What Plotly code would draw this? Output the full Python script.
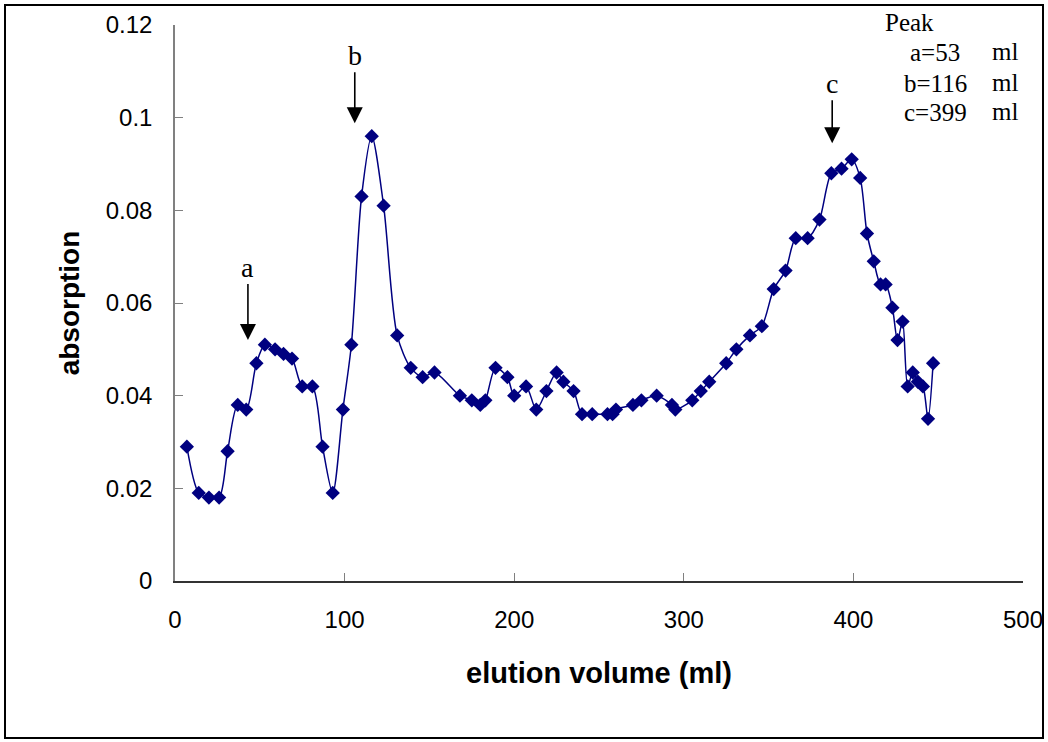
import plotly.graph_objects as go

# Elution data
volume_ml = [7, 14, 20, 26, 31, 37, 42, 48, 53, 59,
             64, 69, 75, 81, 87, 93, 99, 104, 110, 116,
             123, 131, 139, 146, 153, 168, 175, 180, 183, 189,
             196, 200, 207, 213, 219, 225, 229, 235, 240, 246,
             255, 258, 260, 270, 275, 284, 293, 295, 305, 310,
             315, 325, 331, 339, 346, 353, 360, 366, 373, 380,
             387, 393, 399, 404, 408, 412, 416, 419, 423, 426,
             429, 432, 435, 438, 441, 444, 447]
absorption = [0.029, 0.019, 0.018, 0.018, 0.028, 0.038, 0.037, 0.047, 0.051, 0.050,
              0.049, 0.048, 0.042, 0.042, 0.029, 0.019, 0.037, 0.051, 0.083, 0.096,
              0.081, 0.053, 0.046, 0.044, 0.045, 0.040, 0.039, 0.038, 0.039, 0.046,
              0.044, 0.040, 0.042, 0.037, 0.041, 0.045, 0.043, 0.041, 0.036, 0.036,
              0.036, 0.036, 0.037, 0.038, 0.039, 0.040, 0.038, 0.037, 0.039, 0.041,
              0.043, 0.047, 0.050, 0.053, 0.055, 0.063, 0.067, 0.074, 0.074, 0.078,
              0.088, 0.089, 0.091, 0.087, 0.075, 0.069, 0.064, 0.064, 0.059, 0.052,
              0.056, 0.042, 0.045, 0.043, 0.042, 0.035, 0.047]

# Peak arrows (label, x position, arrow tip y)
peak_labels = ["a", "b", "c"]
peak_arrow_x = [43, 106, 387.5]
peak_arrow_y = [0.052, 0.0988, 0.0945]
peak_values = ["a=53", "b=116", "c=399"]

x_ticks = [0, 100, 200, 300, 400, 500]
y_ticks = [0, 0.02, 0.04, 0.06, 0.08, 0.1, 0.12]

NAVY = "#000080"

fig = go.Figure()
fig.add_trace(go.Scatter(
    x=volume_ml, y=absorption, mode="lines+markers",
    line=dict(color=NAVY, width=1.5, shape="spline", smoothing=0.8),
    marker=dict(symbol="diamond", size=11, color=NAVY),
    showlegend=False, hoverinfo="x+y",
))

annotations = []
for lab, ax_, ay_, off in zip(peak_labels, peak_arrow_x, peak_arrow_y, [-73, -68, -60]):
    annotations.append(dict(
        x=ax_, y=ay_, xref="x", yref="y", text=lab, showarrow=True,
        arrowhead=2, arrowsize=2.0, arrowwidth=1.6, arrowcolor="black",
        ax=0, ay=off, font=dict(family="Liberation Serif", size=28, color="black"),
    ))

# Peak table (paper coordinates)
W, H = 848.0, 556.0
def px_x(p):
    return (p - 175) / W
def px_y(p):
    return (581 - p) / H

annotations.append(dict(x=px_x(909), y=px_y(22), xref="paper", yref="paper", text="Peak",
                        showarrow=False, xanchor="center", yanchor="middle",
                        font=dict(family="Liberation Serif", size=25, color="black")))
row_y = [52, 83, 112]
row_x = [908, 902, 902]
for val, ry, rx in zip(peak_values, row_y, row_x):
    annotations.append(dict(x=px_x(rx), y=px_y(ry), xref="paper", yref="paper", text=val,
                            showarrow=False, xanchor="left", yanchor="middle",
                            font=dict(family="Liberation Serif", size=25, color="black")))
    annotations.append(dict(x=px_x(990), y=px_y(ry - 1), xref="paper", yref="paper", text="ml",
                            showarrow=False, xanchor="left", yanchor="middle",
                            font=dict(family="Liberation Serif", size=25, color="black")))

fig.update_layout(
    width=1048, height=742,
    margin=dict(l=175, r=25, t=25, b=161, autoexpand=False),
    paper_bgcolor="white", plot_bgcolor="white",
    annotations=annotations,
    shapes=[dict(type="rect", xref="paper", yref="paper",
                 x0=px_x(5), x1=px_x(1043), y0=px_y(738), y1=px_y(5),
                 line=dict(color="black", width=2), fillcolor="rgba(0,0,0,0)", layer="below")],
    xaxis=dict(
        range=[0, 500], tickvals=x_ticks, ticktext=[str(v) for v in x_ticks],
        automargin=False,
        showgrid=False, zeroline=False, showline=True, linecolor="#333333", linewidth=1.5,
        ticks="inside", ticklen=8, tickcolor="#808080", ticklabelstandoff=16,
        tickfont=dict(family="Liberation Sans", size=24, color="black"),
        title=dict(text="<b>elution volume (ml)</b>", standoff=31,
                   font=dict(family="Liberation Sans", size=29, color="black")),
    ),
    yaxis=dict(
        range=[0, 0.12], tickvals=y_ticks, ticktext=["0", "0.02", "0.04", "0.06", "0.08", "0.1", "0.12"],
        automargin=False,
        showgrid=False, zeroline=False, showline=True, linecolor="#808080", linewidth=1.5,
        ticks="inside", ticklen=8, tickcolor="#808080", ticklabelstandoff=16,
        tickfont=dict(family="Liberation Sans", size=24, color="black"),
        title=dict(text="<b>absorption</b>", standoff=18,
                   font=dict(family="Liberation Sans", size=28, color="black")),
    ),
)

fig.write_html("out.html")
